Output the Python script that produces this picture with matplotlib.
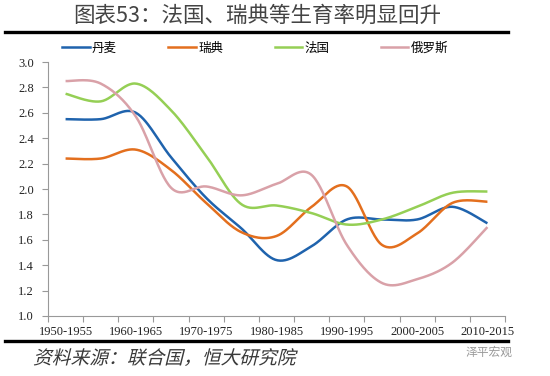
import numpy as np
import matplotlib
matplotlib.use("Agg")
import matplotlib.pyplot as plt
from matplotlib.lines import Line2D
from matplotlib.textpath import TextPath
from matplotlib.patches import PathPatch
from matplotlib.font_manager import FontProperties
from matplotlib.transforms import Affine2D

plt.rcParams['font.family'] = ['Noto Sans CJK SC', 'DejaVu Sans']

# periods (5-year intervals)
periods = ['1950-1955', '1955-1960', '1960-1965', '1965-1970', '1970-1975',
           '1975-1980', '1980-1985', '1985-1990', '1990-1995', '1995-2000',
           '2000-2005', '2005-2010', '2010-2015']

# total fertility rate
denmark = [2.55, 2.55, 2.60, 2.25, 1.93, 1.69, 1.44, 1.55, 1.76, 1.76, 1.76, 1.86, 1.73]
sweden = [2.24, 2.24, 2.31, 2.15, 1.89, 1.66, 1.63, 1.86, 2.02, 1.56, 1.65, 1.89, 1.90]
france = [2.75, 2.69, 2.83, 2.62, 2.26, 1.88, 1.87, 1.81, 1.72, 1.76, 1.86, 1.97, 1.98]
russia = [2.85, 2.83, 2.57, 2.01, 2.02, 1.95, 2.04, 2.11, 1.56, 1.26, 1.29, 1.42, 1.70]

names = ['丹麦', '瑞典', '法国', '俄罗斯']
colors = ['#1f63ad', '#e36f1e', '#95cf55', '#d9a1a8']


def smooth(y, n=30):
    # excel-like smoothed line (bezier through the points)
    y = np.asarray(y, float)
    x = np.arange(len(y), dtype=float)
    px = np.concatenate([[x[0]], x, [x[-1]]])
    py = np.concatenate([[y[0]], y, [y[-1]]])
    xs, ys = [], []
    t = np.linspace(0, 1, n)
    for i in range(len(y) - 1):
        p0 = np.array([px[i], py[i]])
        p1 = np.array([px[i + 1], py[i + 1]])
        p2 = np.array([px[i + 2], py[i + 2]])
        p3 = np.array([px[i + 3], py[i + 3]])
        c1 = p1 + (p2 - p0) / 6
        c2 = p2 - (p3 - p1) / 6
        b = ((1 - t) ** 3)[:, None] * p1 + (3 * (1 - t) ** 2 * t)[:, None] * c1 \
            + (3 * (1 - t) * t ** 2)[:, None] * c2 + (t ** 3)[:, None] * p2
        xs.append(b[:, 0])
        ys.append(b[:, 1])
    return np.concatenate(xs), np.concatenate(ys)


fig = plt.figure(figsize=(5.5, 3.76), dpi=100)
ax = fig.add_axes([48 / 550, 1 - 316 / 376, 457 / 550, 254 / 376])

for vals, c, nm in zip([denmark, sweden, france, russia], colors, names):
    sx, sy = smooth(vals)
    ax.plot(sx, sy, color=c, lw=1.8, label=nm, solid_capstyle='butt')

ax.set_xlim(-0.5, len(periods) - 0.5)
ax.set_ylim(1.0, 3.0)
ax.set_yticks(np.arange(1.0, 3.01, 0.2))
ax.set_yticklabels([f'{v:.1f}' for v in np.arange(1.0, 3.01, 0.2)],
                   family='Liberation Serif', fontsize=9, color='#222222')

ax.set_xticks(np.arange(-0.5, len(periods), 1.0))
ax.set_xticklabels([])
ax.set_xticks(np.arange(0, len(periods), 2), minor=True)
ax.set_xticklabels(periods[::2], minor=True, family='Liberation Serif',
                   fontsize=9, color='#222222')
ax.tick_params(axis='x', which='major', length=4, color='#999999', width=0.8)
ax.tick_params(axis='x', which='minor', length=0, pad=7)
ax.tick_params(axis='y', length=4, color='#999999', width=0.8, pad=6)

for s in ['top', 'right']:
    ax.spines[s].set_visible(False)
for s in ['left', 'bottom']:
    ax.spines[s].set_color('#999999')
    ax.spines[s].set_linewidth(0.8)

# legend
handles = [Line2D([], [], color=c, lw=1.8) for c in colors]
fig.legend(handles, names, loc='center left', bbox_to_anchor=(62 / 550, 1 - 48 / 376),
           ncol=4, frameon=False, fontsize=9, handlelength=2.2, handletextpad=0.2,
           columnspacing=4.1, borderpad=0, borderaxespad=0)

# title and rules
fig.text(257 / 550, 1 - 16 / 376, '图表53：法国、瑞典等生育率明显回升',
         ha='center', va='center', fontsize=15.5, color='#444444', weight='light')
fig.add_artist(Line2D([5 / 550, 508 / 550], [1 - 32 / 376] * 2, color='black', lw=2.4))
fig.add_artist(Line2D([5 / 550, 508 / 550], [1 - 341 / 376] * 2, color='black', lw=2.4))

# source note, slanted
fp = FontProperties(family='Noto Sans CJK SC', size=13.5, weight='light')
tp = TextPath((0, 0), '资料来源：联合国，恒大研究院', prop=fp)
tr = Affine2D().skew_deg(14, 0).scale(100 / 72).translate(33, 376 - 364)
fig.add_artist(PathPatch(tp, transform=tr, facecolor='#3a3a3a', edgecolor='none'))

fig.text(466 / 550, 1 - 352 / 376, '泽平宏观', ha='left', va='center',
         fontsize=8.5, color='#9a9a9a')

fig.savefig('out.png', dpi=100)
